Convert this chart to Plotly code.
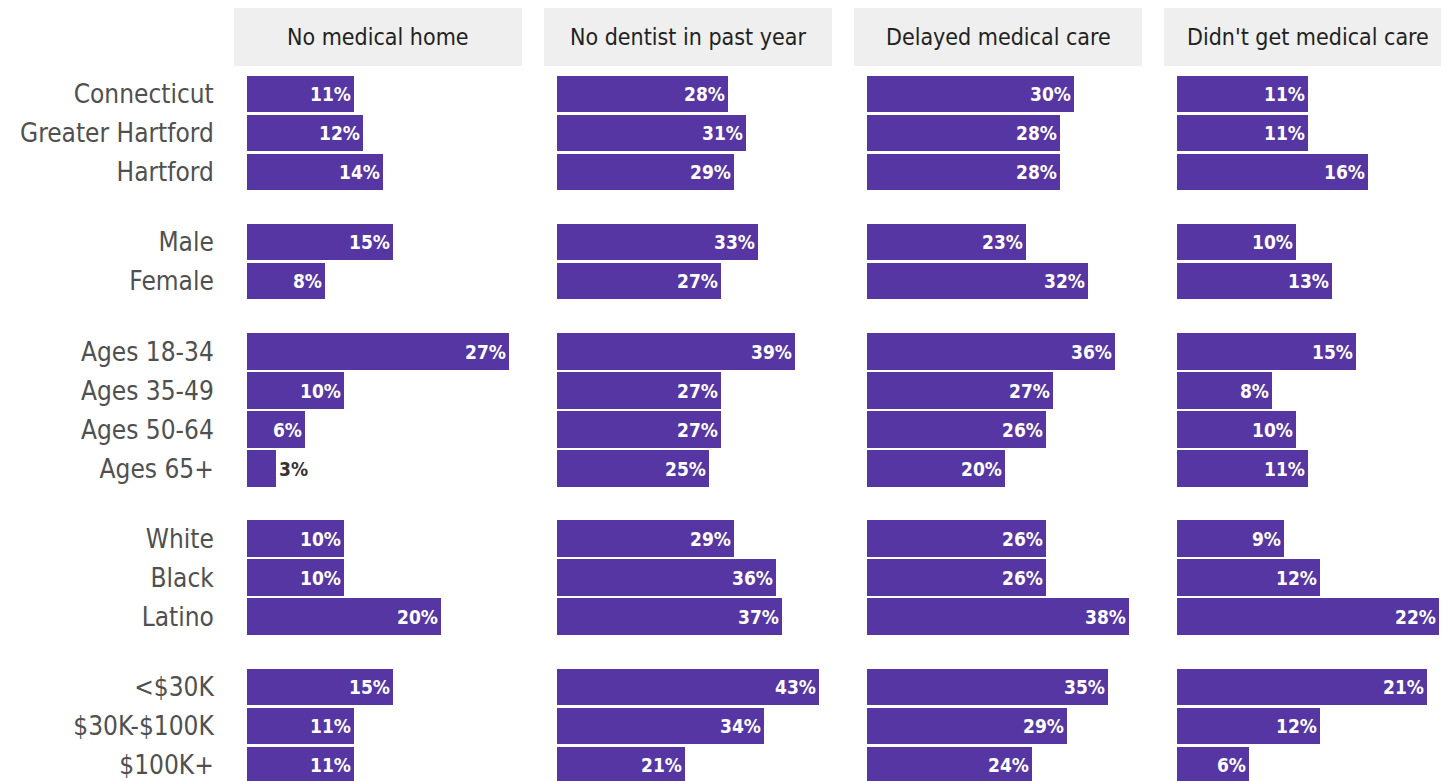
import plotly.graph_objects as go
from plotly.subplots import make_subplots

# ---------------- data ----------------
groups = [
    ["Connecticut", "Greater Hartford", "Hartford"],
    ["Male", "Female"],
    ["Ages 18-34", "Ages 35-49", "Ages 50-64", "Ages 65+"],
    ["White", "Black", "Latino"],
    ["<$30K", "$30K-$100K", "$100K+"],
]
panel_titles = ["No medical home", "No dentist in past year",
                "Delayed medical care", "Didn't get medical care"]

no_medical_home = [11, 12, 14, 15, 8, 27, 10, 6, 3, 10, 10, 20, 15, 11, 11]
no_dentist = [28, 31, 29, 33, 27, 39, 27, 27, 25, 29, 36, 37, 43, 34, 21]
delayed_care = [30, 28, 28, 23, 32, 36, 27, 26, 20, 26, 26, 38, 35, 29, 24]
didnt_get_care = [11, 11, 16, 10, 13, 15, 8, 10, 11, 9, 12, 22, 21, 12, 6]
series = [no_medical_home, no_dentist, delayed_care, didnt_get_care]

# ---------------- layout helpers ----------------
GROUP_GAP = 0.8
categories, positions = [], []
for gi, g in enumerate(groups):
    for name in g:
        positions.append(len(categories) + gi * GROUP_GAP)
        categories.append(name)

PURPLE = "#5636a3"
FONT = "Liberation Sans Narrow, DejaVu Sans Condensed, Roboto"
W, H = 1449, 781
OFF = 8                      # page body margin offset
ML = 234 - OFF
MT = 70 - OFF
MR = 5
plot_w = W - ML - MR
gap_px = 22
panel_w = (plot_w - 3 * gap_px) / 4

fig = make_subplots(rows=1, cols=4, shared_yaxes=False)

px_per_unit = 39.0
first_center_px = 94 - OFF
ymin = -(first_center_px - MT) / px_per_unit
ymax = ymin + (H - MT) / px_per_unit

for i, vals in enumerate(series):
    vmax = max(vals)
    tp = []
    for v in vals:
        # small bars can't hold the label
        tp.append("outside" if v / (vmax * 1.1) * panel_w < 40 else "inside")
    fig.add_trace(go.Bar(
        x=vals, y=positions, orientation="h",
        marker=dict(color=PURPLE, line=dict(width=0)),
        width=0.93,
        text=[f"{v}%" for v in vals],
        textposition=tp,
        insidetextanchor="end",
        constraintext="none",
        insidetextfont=dict(color="white", size=19, family=FONT),
        outsidetextfont=dict(color="#333333", size=19, family=FONT),
        texttemplate="<b>%{text}</b>",
        cliponaxis=False,
        hoverinfo="skip",
        showlegend=False,
    ), row=1, col=i + 1)

    x0 = i * (panel_w + gap_px) / plot_w
    x1 = (i * (panel_w + gap_px) + panel_w) / plot_w
    axn = "" if i == 0 else str(i + 1)
    fig.update_layout(**{
        f"xaxis{axn}": dict(domain=[x0, x1], range=[-0.05 * vmax, 1.05 * vmax],
                            showgrid=False, zeroline=False, showticklabels=False,
                            showline=False, fixedrange=True, automargin=False),
        f"yaxis{axn}": dict(range=[ymax, ymin], showgrid=False, zeroline=False,
                            showline=False, automargin=False,
                            tickvals=positions if i == 0 else [],
                            ticktext=categories if i == 0 else [],
                            showticklabels=(i == 0),
                            ticks="outside" if i == 0 else "",
                            ticklen=14, tickcolor="rgba(0,0,0,0)",
                            tickfont=dict(size=26, color="#505050", family=FONT),
                            fixedrange=True),
    })

    # strip header
    hdr_top, hdr_bot = 0, 66 - OFF
    fig.add_shape(type="rect", xref=f"x{axn} domain", yref="paper",
                  x0=0, x1=1,
                  y0=1 + (MT - hdr_bot) / (H - MT), y1=1 + (MT - hdr_top) / (H - MT),
                  fillcolor="#efefef", line=dict(width=0), layer="below")
    fig.add_annotation(text=panel_titles[i], xref=f"x{axn} domain", yref="paper",
                       x=0.5, y=1 + (MT - (37 - OFF)) / (H - MT),
                       xanchor="center", yanchor="middle", showarrow=False,
                       font=dict(size=23, color="#222222", family=FONT))

fig.update_layout(
    width=W, height=H,
    margin=dict(l=ML, r=MR, t=MT, b=0, pad=0),
    plot_bgcolor="white", paper_bgcolor="white",
    bargap=0,
)

fig.write_html("out.html")
